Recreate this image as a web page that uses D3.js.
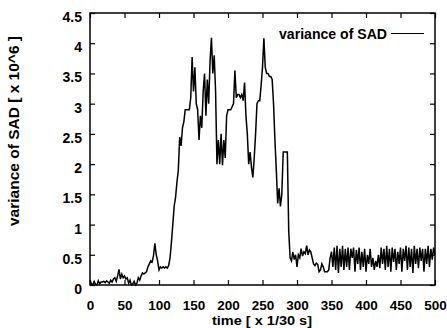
<!DOCTYPE html>
<html><head><meta charset="utf-8">
<script src="https://cdn.jsdelivr.net/npm/d3@7"></script>
<style>
html,body{margin:0;padding:0;background:#fff;}
svg{display:block;}
text{fill:#000;}
</style></head>
<body>
<svg id="c" width="447" height="328"></svg>
<script>
// ---- data (frame index step 2, variance of SAD in units of 10^6) ----
const frames = d3.range(0, 501, 2);
const variance = [
  0.08,0.02,0.00,0.06,0.01,0.00,0.07,0.02,0.05,0.05,
  0.06,0.04,0.07,0.05,0.03,0.08,0.05,0.10,0.12,0.06,
  0.15,0.26,0.10,0.18,0.12,
  0.15,0.10,0.12,0.03,0.08,0.00,0.02,0.06,0.00,0.03,
  0.12,0.08,0.15,0.20,0.18,0.20,0.22,0.30,0.35,0.40,
  0.38,0.48,0.69,0.50,0.40,
  0.25,0.30,0.28,0.30,0.28,0.30,0.28,0.32,0.45,0.70,
  1.00,1.30,1.45,1.70,1.90,2.45,2.30,2.60,2.70,2.90,
  2.90,2.90,2.90,3.10,3.77,
  3.20,3.60,3.00,2.90,2.40,2.80,2.60,3.20,3.50,2.80,
  3.40,3.00,3.70,4.09,3.50,3.80,3.20,2.00,2.40,2.00,
  2.50,1.98,2.40,2.10,2.80,
  2.90,2.90,2.90,2.95,3.00,3.55,3.10,3.15,3.15,3.10,
  3.15,3.05,3.35,2.80,2.50,2.00,2.20,1.95,1.78,2.10,
  2.50,3.00,3.05,3.05,3.30,
  3.60,4.08,3.60,3.50,3.50,3.45,3.45,3.40,3.00,2.40,
  1.90,1.35,1.60,1.30,1.50,2.20,2.20,2.20,2.20,0.90,
  0.45,0.40,0.55,0.42,0.50,
  0.30,0.50,0.45,0.60,0.48,0.55,0.52,0.65,0.50,0.58,
  0.55,0.45,0.35,0.32,0.36,0.34,0.22,0.25,0.35,0.30,
  0.22,0.22,0.22,0.25,0.45,
  0.55,0.30,0.62,0.25,0.65,0.20,0.60,0.30,0.65,0.25,
  0.60,0.30,0.62,0.25,0.60,0.45,0.62,0.22,0.58,0.35,
  0.62,0.25,0.55,0.30,0.60,
  0.22,0.50,0.35,0.60,0.30,0.45,0.25,0.40,0.30,0.50,
  0.28,0.62,0.35,0.60,0.25,0.65,0.30,0.60,0.22,0.62,
  0.38,0.60,0.25,0.55,0.35,
  0.62,0.22,0.60,0.40,0.65,0.25,0.62,0.30,0.60,0.20,
  0.65,0.35,0.60,0.28,0.62,0.40,0.60,0.22,0.60,0.35,
  0.65,0.30,0.60,0.42,0.62,0.50
];
const xTicks = [0,50,100,150,200,250,300,350,400,450,500];
const yTicks = [0,0.5,1,1.5,2,2.5,3,3.5,4,4.5];
const yTickLabels = ["0","0.5","1","1.5","2","2.5","3","3.5","4","4.5"];
const seriesName = "variance of SAD";
const xTitle = "time [ x 1/30 s]";
const yTitle = "variance of SAD [ x 10^6 ]";

const svg = d3.select("#c");
const L = 90, R = 435, T = 13, B = 285;
const x = d3.scaleLinear().domain([0, 500]).range([L, R]);
const y = d3.scaleLinear().domain([0, 4.5]).range([B, T]);
const tickFont = "'Liberation Sans Narrow','Liberation Sans',Arial,sans-serif";
const font = "'Liberation Sans',Arial,sans-serif";

// data line
const pts = frames.map((f, i) => [f, variance[i]]);
svg.append("path")
  .datum(pts)
  .attr("fill", "none")
  .attr("stroke", "#000")
  .attr("stroke-width", 1.5)
  .attr("stroke-linejoin", "miter")
  .attr("d", d3.line().x(d => x(d[0])).y(d => y(d[1])));

// axes (inward ticks, mirrored)
const tl = 5;
const gB = svg.append("g").attr("transform", `translate(0,${B})`)
  .call(d3.axisBottom(x).tickValues(xTicks).tickSize(-tl).tickFormat(d3.format("d")));
const gT = svg.append("g").attr("transform", `translate(0,${T})`)
  .call(d3.axisTop(x).tickValues(xTicks).tickSize(-tl).tickFormat(""));
const gL = svg.append("g").attr("transform", `translate(${L},0)`)
  .call(d3.axisLeft(y).tickValues(yTicks).tickSize(-tl).tickFormat((d,i) => yTickLabels[i]));
const gR = svg.append("g").attr("transform", `translate(${R},0)`)
  .call(d3.axisRight(y).tickValues(yTicks).tickSize(-tl).tickFormat(""));

[gB, gT, gL, gR].forEach(g => {
  g.select(".domain").remove();
  g.selectAll(".tick line").attr("stroke", "#000").attr("stroke-width", 1.2);
  g.selectAll("text").attr("font-family", tickFont).attr("font-weight", "bold")
    .attr("font-size", 14).attr("fill", "#000");
});
gB.selectAll(".tick text").attr("dy", null).attr("y", 25).attr("font-size", 13.5);
gL.selectAll(".tick text").attr("dy", null).attr("y", 8.5).attr("x", -8);

// frame
svg.append("rect").attr("x", L).attr("y", T).attr("width", R - L).attr("height", B - T)
  .attr("fill", "none").attr("stroke", "#000").attr("stroke-width", 1.5);

// titles
svg.append("text").attr("x", 262).attr("y", 325).attr("text-anchor", "middle")
  .attr("font-family", font).attr("font-weight", "bold").attr("font-size", 13)
  .attr("textLength", 100).attr("lengthAdjust", "spacingAndGlyphs").text(xTitle);
svg.append("text").attr("transform", "translate(19,131) rotate(-90)").attr("text-anchor", "middle")
  .attr("font-family", font).attr("font-weight", "bold").attr("font-size", 14)
  .attr("textLength", 190).attr("lengthAdjust", "spacingAndGlyphs").text(yTitle);

// legend
svg.append("text").attr("x", 387).attr("y", 38.5).attr("text-anchor", "end")
  .attr("font-family", font).attr("font-weight", "bold").attr("font-size", 14)
  .attr("textLength", 108).attr("lengthAdjust", "spacingAndGlyphs").text(seriesName);
svg.append("line").attr("x1", 391).attr("x2", 424).attr("y1", 33.5).attr("y2", 33.5)
  .attr("stroke", "#000").attr("stroke-width", 1.2);
</script>
</body></html>
